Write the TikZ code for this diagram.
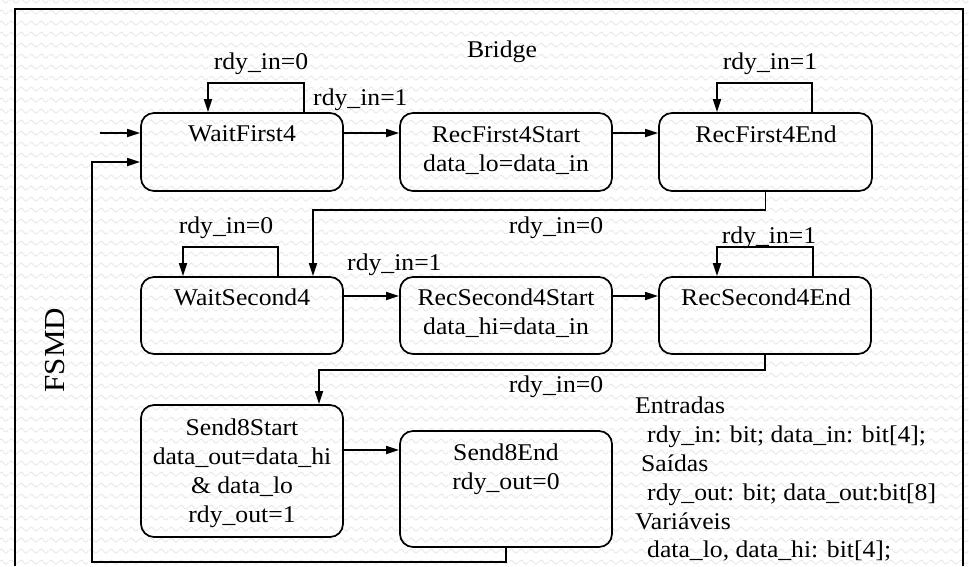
\documentclass[tikz,border=0pt]{standalone}
\usepackage{fontspec}
\setmainfont{Liberation Serif}[FakeStretch=1.07]
\usetikzlibrary{arrows.meta,patterns.meta,calc}
\tikzdeclarepattern{
  name=bgwaves,
  type=uncolored,
  bounding box={(0pt,0pt) and (10pt,10.7pt)},
  tile size={(10pt,10.7pt)},
  code={
    \draw[line width=0.9pt] (0pt,4pt) sin (2.5pt,6pt) cos (5pt,4pt) sin (7.5pt,2pt) cos (10pt,4pt);
  }
}
\begin{document}
\begin{tikzpicture}[x=1pt,y=-1pt,
  line/.style={line width=1.7pt},
  arr/.style={line width=1.7pt,-{Triangle[length=13pt,width=8pt]}},
  state/.style={draw,line width=1.7pt,rounded corners=13pt,inner sep=0pt,rectangle},
  txt/.style={inner sep=0pt,anchor=base,font=\fontsize{24}{29}\selectfont},
  ltxt/.style={inner sep=0pt,anchor=base west,font=\fontsize{24}{29}\selectfont}]
\useasboundingbox (0,0) rectangle (969,566);
\fill[white] (0,0) rectangle (969,566);
\fill[pattern=bgwaves,pattern color=black!9] (0,0) rectangle (969,566);
% frame
\draw[line] (15,566) |- (963,9) -- (963,566);
% states
\node[state,minimum width=202pt,minimum height=78pt] (wf) at (242,152) {};
\node[state,minimum width=212pt,minimum height=78pt] (rf1s) at (506,152) {};
\node[state,minimum width=213pt,minimum height=78pt] (rf1e) at (765.5,152) {};
\node[state,minimum width=202pt,minimum height=77pt] (ws) at (242,315.5) {};
\node[state,minimum width=212pt,minimum height=77pt] (rs2s) at (506,315.5) {};
\node[state,minimum width=212pt,minimum height=77pt] (rs2e) at (765,315.5) {};
\node[state,minimum width=202pt,minimum height=132pt] (s8s) at (242,471) {};
\node[state,minimum width=212pt,minimum height=116pt] (s8e) at (506,489) {};
% state texts
\node[txt] (t1) at (242,141) {WaitFirst4};
\node[txt] (t2) at (506,142) {RecFirst4Start};
\node[txt] (t3) at (506,171) {data\_lo=data\_in};
\node[txt] (t4) at (766,142) {RecFirst4End};
\node[txt] (t5) at (242,305) {WaitSecond4};
\node[txt] (t6) at (506,305) {RecSecond4Start};
\node[txt] (t7) at (506,334) {data\_hi=data\_in};
\node[txt] (t8) at (766,305) {RecSecond4End};
\node[txt] (t9) at (242,435) {Send8Start};
\node[txt] (t10) at (242,464) {data\_out=data\_hi};
\node[txt] (t11) at (242,493) {\& data\_lo};
\node[txt] (t12) at (242,522) {rdy\_out=1};
\node[txt] (t13) at (506,460) {Send8End};
\node[txt] (t14) at (506,489) {rdy\_out=0};
% initial and feedback
\coordinate (init) at (100,133);
\coordinate (fb) at (92,562);
\draw[arr] (init) -- (init -| wf.west);
\draw[arr] (s8e.south) |- (fb) |- ([yshift=-10pt]wf.west);
% transitions row 1
\draw[arr] ([xshift=62pt]wf.north) -- ++(0,-29) -| ([xshift=-34pt]wf.north);
\draw[arr] ([yshift=19pt]wf.east) -- ([yshift=19pt]wf.east -| rf1s.west);
\draw[arr] ([yshift=19pt]rf1s.east) -- ([yshift=19pt]rf1s.east -| rf1e.west);
\draw[arr] ([xshift=46.5pt]rf1e.north) -- ++(0,-29) -| ([xshift=-48.5pt]rf1e.north);
\draw[arr] (rf1e.south) -- ++(0,18) -| ([xshift=71pt]ws.north);
% row 2
\draw[arr] ([xshift=36pt]ws.north) -- ++(0,-29) -| ([xshift=-59pt]ws.north);
\draw[arr] ([yshift=19.5pt]ws.east) -- ([yshift=19.5pt]ws.east -| rs2s.west);
\draw[arr] ([yshift=19.5pt]rs2s.east) -- ([yshift=19.5pt]rs2s.east -| rs2e.west);
\draw[arr] ([xshift=48pt]rs2e.north) -- ++(0,-29) -| ([xshift=-48pt]rs2e.north);
\draw[arr] (rs2e.south) -- ++(0,15) -| ([xshift=77pt]s8s.north);
% row 3
\draw[arr] ([yshift=21pt]s8s.east) -- ([yshift=21pt]s8s.east -| s8e.west);
% labels
\node[txt] (l1) at (261,69) {rdy\_in=0};
\node[ltxt] (l2) at (313,105) {rdy\_in=1};
\node[txt] (l3) at (502,57) {Bridge};
\node[txt] (l4) at (770,69) {rdy\_in=1};
\node[txt] (l5) at (556,233) {rdy\_in=0};
\node[txt] (l6) at (226,233) {rdy\_in=0};
\node[ltxt] (l7) at (347,270) {rdy\_in=1};
\node[txt] (l8) at (769,243) {rdy\_in=1};
\node[txt] (l9) at (556,392) {rdy\_in=0};
\node[inner sep=0pt,rotate=90,font=\fontsize{29}{34}\selectfont] (fsmd) at (55,350) {FSMD};
% legend
\node[ltxt] (g1) at (635,413) {Entradas};
\node[ltxt] (g2) at (647,442) {rdy\_in: bit; data\_in: bit[4];};
\node[ltxt] (g3) at (641,471) {Saídas};
\node[ltxt] (g4) at (647,500) {rdy\_out: bit; data\_out:bit[8]};
\node[ltxt] (g5) at (635,529) {Variáveis};
\node[ltxt] (g6) at (647,557) {data\_lo, data\_hi: bit[4];};
\end{tikzpicture}
\end{document}
